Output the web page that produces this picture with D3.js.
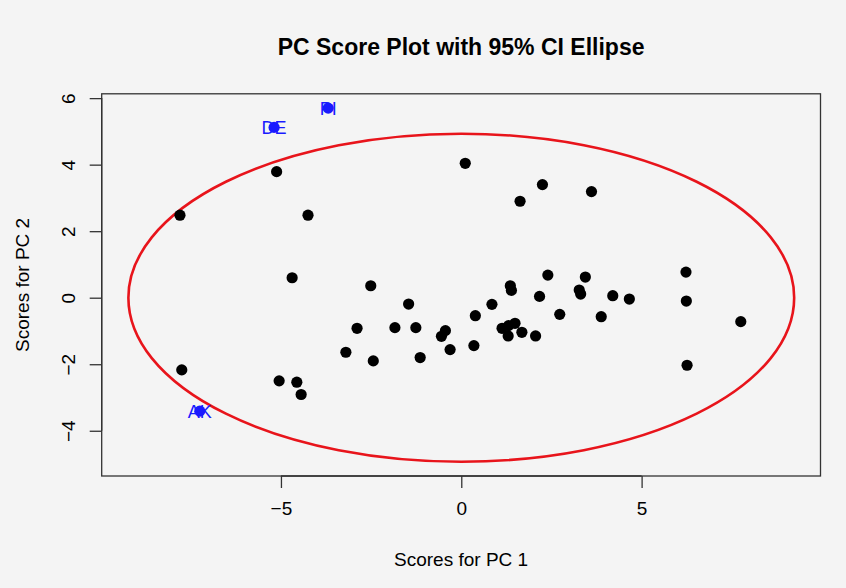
<!DOCTYPE html>
<html>
<head>
<meta charset="utf-8">
<script src="https://cdn.jsdelivr.net/npm/d3@7"></script>
<style>
  html, body { margin: 0; padding: 0; background: #f4f4f4; }
  svg { display: block; font-family: "Liberation Sans", Arial, Helvetica, sans-serif; }
</style>
</head>
<body>
<svg id="chart" width="846" height="588"></svg>
<script>
// PC1 / PC2 scores for the observations inside the confidence region
const pc1 = [-5.12, -7.80, -4.25, -4.69, -7.75, -5.05, -4.56, -4.44, 0.11, -2.51,
             -1.46, -2.89, -1.84, -1.26, -0.44, -0.55, 0.39, 0.85, -3.20, -2.44,
             -1.14, -0.31, 0.35, 1.63, 2.25, 3.61, 2.40, 1.36, 1.39, 3.44,
             3.27, 3.31, 4.20, 4.66, 2.17, 2.73, 3.88, 1.13, 1.31, 1.49,
             1.30, 1.68, 2.06, 6.23, 6.24, 7.75, 6.26];
const pc2 = [3.79, 2.48, 2.48, 0.60, -2.17, -2.50, -2.54, -2.91, 4.04, 0.36,
             -0.19, -0.92, -0.90, -0.90, -0.99, -1.16, -0.54, -0.20, -1.64, -1.90,
             -1.80, -1.56, -1.44, 2.90, 3.40, 3.19, 0.68, 0.36, 0.22, 0.62,
             0.23, 0.11, 0.06, -0.04, 0.04, -0.50, -0.57, -0.92, -0.84, -0.77,
             -1.15, -1.04, -1.15, 0.77, -0.10, -0.72, -2.03];

// Observations falling outside the 95% ellipse, labelled by state
const outlierLabels = ["DE", "PI", "AK"];
const outlierPC1 = [-5.19, -3.69, -7.25];
const outlierPC2 = [5.12, 5.70, -3.41];

// 95% confidence ellipse (centre and semi-axes in score units)
const ellipseCenter = [0, 0];
const ellipseRadii = [9.23, 4.93];

// Axis limits and ticks
const xLimits = [-9.97, 9.96];
const yLimits = [-5.36, 6.13];
const xTicks = [-5, 0, 5];
const yTicks = [-4, -2, 0, 2, 4, 6];

const title = "PC Score Plot with 95% CI Ellipse";
const xTitle = "Scores for PC 1";
const yTitle = "Scores for PC 2";

const svg = d3.select("#chart");
const plot = { left: 101.7, right: 820.5, top: 93.8, bottom: 476 };

const x = d3.scaleLinear().domain(xLimits).range([plot.left, plot.right]);
const y = d3.scaleLinear().domain(yLimits).range([plot.bottom, plot.top]);

svg.append("rect").attr("width", 846).attr("height", 588).attr("fill", "#f4f4f4");

// Ellipse
svg.append("ellipse")
  .attr("cx", x(ellipseCenter[0]))
  .attr("cy", y(ellipseCenter[1]))
  .attr("rx", x(ellipseCenter[0] + ellipseRadii[0]) - x(ellipseCenter[0]))
  .attr("ry", y(ellipseCenter[1]) - y(ellipseCenter[1] + ellipseRadii[1]))
  .attr("fill", "none")
  .attr("stroke", "#e8141b")
  .attr("stroke-width", 2.6);

// Regular points
const pts = pc1.map((v, i) => ({ x: v, y: pc2[i] }));
svg.append("g").selectAll("circle").data(pts).join("circle")
  .attr("cx", d => x(d.x))
  .attr("cy", d => y(d.y))
  .attr("r", 5.6)
  .attr("fill", "#000");

// Outlier points and their labels
const outs = outlierLabels.map((l, i) => ({ label: l, x: outlierPC1[i], y: outlierPC2[i] }));
const og = svg.append("g");
og.selectAll("circle").data(outs).join("circle")
  .attr("cx", d => x(d.x))
  .attr("cy", d => y(d.y))
  .attr("r", 5.6)
  .attr("fill", "#1a1aff");
og.selectAll("text").data(outs).join("text")
  .attr("x", d => x(d.x))
  .attr("y", d => y(d.y))
  .attr("dy", "0.36em")
  .attr("text-anchor", "middle")
  .attr("font-size", 18)
  .attr("fill", "#1a1aff")
  .text(d => d.label);

// Box
svg.append("rect")
  .attr("x", plot.left).attr("y", plot.top)
  .attr("width", plot.right - plot.left).attr("height", plot.bottom - plot.top)
  .attr("fill", "none").attr("stroke", "#333").attr("stroke-width", 1.3);

// Axes
const xAxis = d3.axisBottom(x).tickValues(xTicks).tickSize(12).tickPadding(14).tickFormat(d3.format("d"));
const gx = svg.append("g").attr("transform", `translate(0,${plot.bottom})`).call(xAxis);
gx.select(".domain").attr("d", `M${x(xTicks[0])},0H${x(xTicks[xTicks.length - 1])}`)
  .attr("stroke", "#333").attr("stroke-width", 1.3);
gx.selectAll(".tick line").attr("stroke", "#333").attr("stroke-width", 1.3);
gx.selectAll(".tick text").attr("font-size", 19).attr("fill", "#000")
  .attr("font-family", "Liberation Sans, Arial, sans-serif");

const yAxis = d3.axisLeft(y).tickValues(yTicks).tickSize(12).tickFormat(d3.format("d"));
const gy = svg.append("g").attr("transform", `translate(${plot.left},0)`).call(yAxis);
gy.select(".domain").attr("d", `M0,${y(yTicks[0])}V${y(yTicks[yTicks.length - 1])}`)
  .attr("stroke", "#333").attr("stroke-width", 1.3);
gy.selectAll(".tick line").attr("stroke", "#333").attr("stroke-width", 1.3);
gy.selectAll(".tick text")
  .attr("font-size", 19).attr("fill", "#000")
  .attr("font-family", "Liberation Sans, Arial, sans-serif")
  .attr("x", null).attr("dy", null)
  .attr("text-anchor", "middle")
  .attr("transform", "translate(-34,0) rotate(-90)")
  .attr("dy", "0.36em");

// Titles
svg.append("text")
  .attr("x", (plot.left + plot.right) / 2).attr("y", 47)
  .attr("dy", "0.36em")
  .attr("text-anchor", "middle")
  .attr("font-size", 23).attr("font-weight", "bold")
  .text(title);

svg.append("text")
  .attr("x", (plot.left + plot.right) / 2).attr("y", 559)
  .attr("dy", "0.36em")
  .attr("text-anchor", "middle")
  .attr("font-size", 19)
  .text(xTitle);

svg.append("text")
  .attr("transform", `translate(22,${(plot.top + plot.bottom) / 2}) rotate(-90)`)
  .attr("dy", "0.36em")
  .attr("text-anchor", "middle")
  .attr("font-size", 19)
  .text(yTitle);
</script>
</body>
</html>
